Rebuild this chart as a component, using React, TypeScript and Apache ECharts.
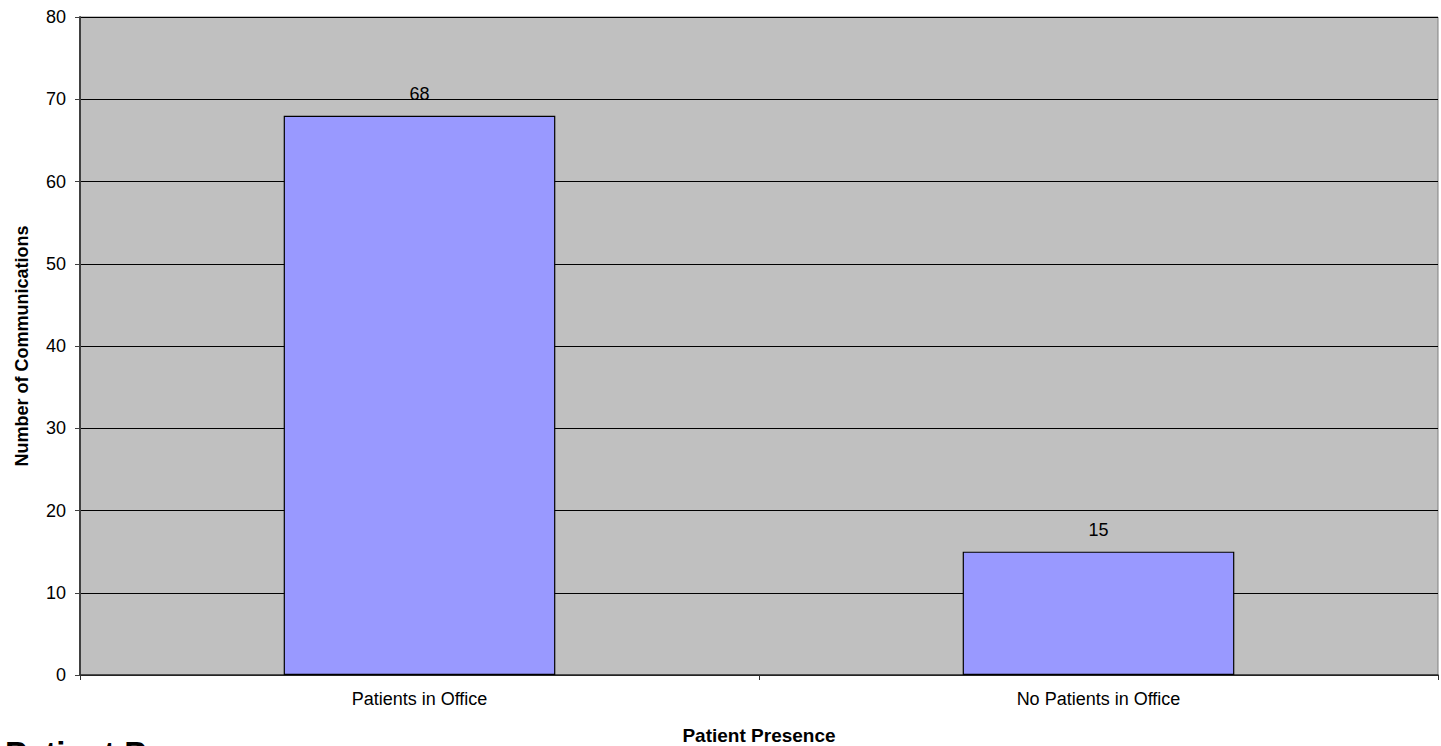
import React, { useEffect, useRef } from "react";
import * as echarts from "echarts";

const categories = ["Patients in Office", "No Patients in Office"];
const values = [68, 15];
const yMin = 0;
const yMax = 80;
const yInterval = 10;
const yAxisTitle = "Number of Communications";
const xAxisTitle = "Patient Presence";
const chartTitle = "Patient Presence";

export default function App() {
  const ref = useRef<HTMLDivElement>(null);
  useEffect(() => {
    document.body.style.margin = "0";
    const chart = echarts.init(ref.current!, undefined, { renderer: "svg" });
    const font = "Arial, 'Liberation Sans', Helvetica, sans-serif";
    chart.setOption({
      animation: false,
      backgroundColor: "#FFFFFF",
      textStyle: { fontFamily: font },
      grid: {
        left: 80,
        right: 3,
        top: 17,
        bottom: 71,
        outerBoundsMode: "none",
        containLabel: false,
        show: true,
        backgroundColor: "#C0C0C0",
        borderColor: "#808080",
        borderWidth: 1,
      },
      graphic: [
        {
          type: "text",
          left: 5,
          top: 737,
          silent: true,
          style: {
            text: chartTitle,
            fontSize: 33,
            fontWeight: "bold",
            fontFamily: font,
            fill: "#000",
          },
        },
      ],
      xAxis: {
        type: "category",
        data: categories,
        name: xAxisTitle,
        nameLocation: "middle",
        nameGap: 60,
        nameTextStyle: {
          fontSize: 19,
          fontWeight: "bold",
          color: "#000",
          fontFamily: font,
          verticalAlign: "middle",
        },
        axisLine: { lineStyle: { color: "#303030", width: 1.5 } },
        axisTick: { show: true, length: 5, lineStyle: { color: "#303030" } },
        axisLabel: { fontSize: 18, color: "#000", margin: 15, fontFamily: font },
      },
      yAxis: {
        type: "value",
        min: yMin,
        max: yMax,
        interval: yInterval,
        name: yAxisTitle,
        nameLocation: "middle",
        nameGap: 58,
        nameTextStyle: {
          fontSize: 18,
          fontWeight: "bold",
          color: "#000",
          fontFamily: font,
          verticalAlign: "middle",
        },
        axisLine: { show: true, lineStyle: { color: "#404040", width: 2 } },
        axisTick: { show: true, length: 5, lineStyle: { color: "#404040" } },
        axisLabel: { fontSize: 18, color: "#000", margin: 14, fontFamily: font },
        splitLine: { show: true, lineStyle: { color: "#000", width: 1 } },
      },
      series: [
        {
          type: "bar",
          data: values,
          barWidth: "40%",
          itemStyle: { color: "#9999FF", borderColor: "#000", borderWidth: 1.2 },
          label: {
            show: true,
            position: "top",
            distance: 13,
            fontSize: 18,
            color: "#000",
            fontFamily: font,
          },
        },
      ],
    });
    return () => chart.dispose();
  }, []);
  return (
    <div
      ref={ref}
      style={{ position: "fixed", left: 0, top: 0, width: 1441, height: 746 }}
    />
  );
}
